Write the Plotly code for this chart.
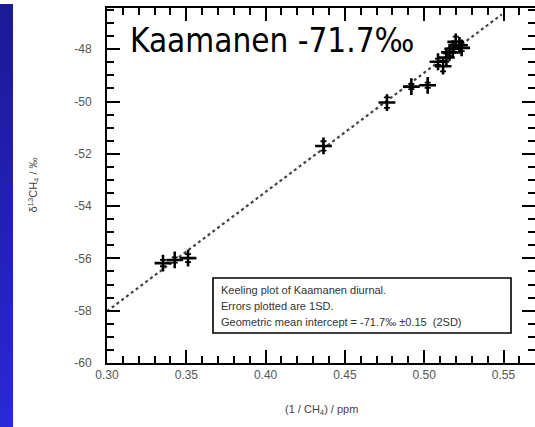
import numpy as np
import plotly.graph_objects as go

# Keeling plot data: inverse methane concentration vs delta13C of CH4
inv_ch4 = [0.3353, 0.3427, 0.3511, 0.4365, 0.4765, 0.4919, 0.5022,
           0.5087, 0.5119, 0.5140, 0.5160, 0.5180, 0.5199, 0.5222, 0.5236]
d13c = [-56.18, -56.06, -55.99, -51.70, -50.04, -49.43, -49.38,
        -48.48, -48.65, -48.32, -48.12, -47.98, -47.72, -47.85, -47.95]
d13c_err = [0.12, 0.10, 0.15, 0.18, 0.20, 0.10, 0.10,
            0.12, 0.20, 0.15, 0.15, 0.15, 0.20, 0.15, 0.12]

# Geometric mean regression line
intercept = -71.7
slope = 45.6
line_x = [0.30, 0.549]

x_ticks = [0.30, 0.35, 0.40, 0.45, 0.50, 0.55]
y_ticks = [-60, -58, -56, -54, -52, -50, -48]

title_text = "Kaamanen -71.7‰"
note_lines = ["Keeling plot of Kaamanen diurnal.",
              "Errors plotted are 1SD.",
              "Geometric mean intercept = -71.7‰ ±0.15  (2SD)"]

W, H = 535, 427
ML, MR, MT, MB = 107, 0, 8, 64
PW, PH = W - ML - MR, H - MT - MB

fig = go.Figure()

lx = np.array(line_x)
fig.add_trace(go.Scatter(
    x=lx, y=intercept + slope * lx, mode="lines",
    line=dict(color="#444", width=2.2, dash="dot"),
    hoverinfo="skip", showlegend=False))

fig.add_trace(go.Scatter(
    x=inv_ch4, y=d13c, mode="markers",
    marker=dict(symbol="cross-thin", size=12, color="black",
                line=dict(color="black", width=2.6)),
    error_y=dict(type="data", array=d13c_err, visible=True,
                 color="black", thickness=1.8, width=3),
    showlegend=False))

# invisible traces that carry the top and right tick rows
fig.add_trace(go.Scatter(x=[0.3], y=[-60], yaxis="y2", mode="markers",
                         marker=dict(opacity=0), hoverinfo="skip",
                         showlegend=False))
fig.add_trace(go.Scatter(x=[0.3], y=[-60], xaxis="x2", mode="markers",
                         marker=dict(opacity=0), hoverinfo="skip",
                         showlegend=False))

tick_font = dict(family="Liberation Sans, Arial, sans-serif", size=12, color="#555")
y_range = [-60, -60 + PH / 26.15]
x_range = [0.30, 0.30 + PW / 79.3 * 0.05]

major = dict(ticks="inside", ticklen=13, tickwidth=2, tickcolor="black")
x_minor = dict(ticks="inside", dtick=0.01, tick0=0.30, ticklen=7,
               tickwidth=2, tickcolor="black")
y_minor = dict(ticks="inside", dtick=0.5, tick0=-60, ticklen=7,
               tickwidth=2, tickcolor="black")

fig.update_layout(
    width=W, height=H,
    margin=dict(l=ML, r=MR, t=MT, b=MB),
    paper_bgcolor="white", plot_bgcolor="white",
    xaxis=dict(range=x_range, tickmode="linear", tick0=0.30, dtick=0.05,
               tickformat=".2f", minor=x_minor,
               showline=True, linecolor="black", linewidth=2, mirror=True,
               showgrid=False, zeroline=False, tickfont=tick_font, **major),
    xaxis2=dict(range=x_range, overlaying="x", side="top", anchor="y",
                tickmode="linear", tick0=0.30, dtick=0.05,
                showticklabels=False, minor=x_minor, showline=False,
                showgrid=False, zeroline=False, **major),
    yaxis=dict(range=y_range, tickmode="array", tickvals=y_ticks,
               ticktext=[f"-{abs(v)}" for v in y_ticks], minor=y_minor,
               showline=True, linecolor="black", linewidth=2,
               showgrid=False, zeroline=False, tickfont=tick_font,
               ticklabelstandoff=11, **major),
    yaxis2=dict(range=y_range, overlaying="y", side="right", anchor="x",
                tickmode="linear", tick0=-60, dtick=2, showticklabels=False,
                minor=y_minor, showline=False, showgrid=False,
                zeroline=False, **major),
)

# blue slide strip along the left edge (overlapping bands for a smooth ramp)
n_bands = 24
top_px, bot_px = 4, H
for i in range(n_bands):
    p0 = top_px + (bot_px - top_px) * i / n_bands
    p1 = min(bot_px, p0 + (bot_px - top_px) / n_bands + 2)
    t = i / (n_bands - 1)
    r = int(28 + 14 * t)
    g = int(26 + 14 * t)
    b = int(150 + 60 * t)
    fig.add_shape(type="rect", xref="paper", yref="paper", layer="below",
                  x0=-ML / PW, x1=(13 - ML) / PW,
                  y0=(H - MB - p1) / PH, y1=(H - MB - p0) / PH,
                  fillcolor=f"rgb({r},{g},{b})", line=dict(width=0))

# large title inside the plot
fig.add_annotation(text=title_text, xref="paper", yref="paper",
                   x=(128 - ML) / PW, y=(H - MB - 41) / PH,
                   xanchor="left", yanchor="middle", showarrow=False,
                   font=dict(family="DejaVu Sans Condensed, DejaVu Sans, sans-serif",
                             size=33, color="black"))

# note box
fig.add_shape(type="rect", xref="paper", yref="paper",
              x0=(213 - ML) / PW, x1=(511 - ML) / PW,
              y0=(H - MB - 333) / PH, y1=(H - MB - 278) / PH,
              line=dict(color="black", width=1.6), fillcolor="white")
for k, txt in enumerate(note_lines):
    fig.add_annotation(text=txt, xref="paper", yref="paper",
                       x=(219 - ML) / PW, y=(H - MB - (290 + 16 * k)) / PH,
                       xanchor="left", yanchor="middle", showarrow=False,
                       font=dict(family="Liberation Sans, Arial, sans-serif",
                                 size=11, color="#333"))

# axis titles
fig.add_annotation(text="δ<sup>13</sup>CH<sub>4</sub> / ‰", xref="paper", yref="paper",
                   x=0, y=0.5, xshift=-(ML - 33), textangle=-90,
                   xanchor="center", yanchor="middle", showarrow=False,
                   font=dict(family="Liberation Sans, Arial, sans-serif",
                             size=11, color="#444"))
fig.add_annotation(text="(1 / CH<sub>4</sub>) / ppm", xref="paper", yref="paper",
                   x=(321 - ML) / PW, y=0, yshift=-(410 - (H - MB)),
                   xanchor="center", yanchor="middle", showarrow=False,
                   font=dict(family="Liberation Sans, Arial, sans-serif",
                             size=11, color="#444"))

fig.write_html("out.html")
